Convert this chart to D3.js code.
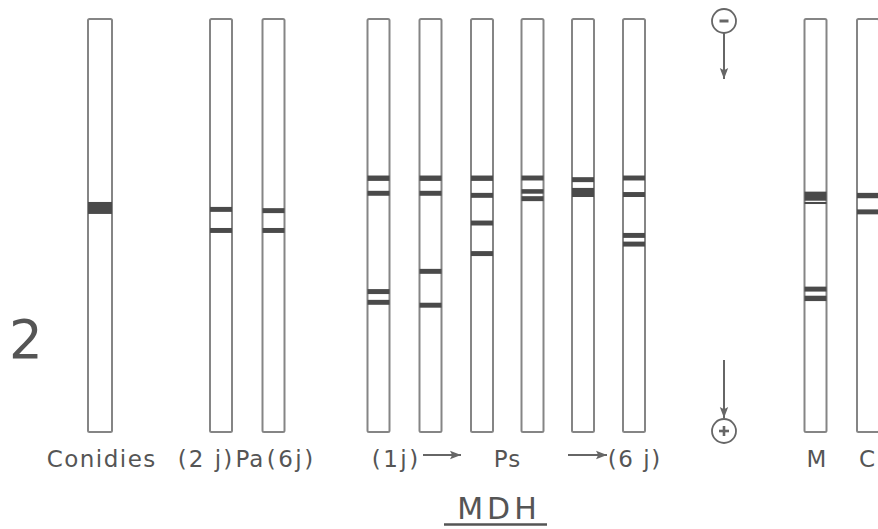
<!DOCTYPE html>
<html>
<head>
<meta charset="utf-8">
<script src="https://d3js.org/d3.v7.min.js"></script>
<style>
  body { margin: 0; background: #fff; }
  text { font-family: "DejaVu Sans", sans-serif; fill: #555; }
</style>
</head>
<body>
<div id="chart"></div>
<script>
// lanes of the gel (electrophoresis of MDH)
const lanes = ['Conidies', 'Pa2j', 'Pa6j', 'Ps1', 'Ps2', 'Ps3', 'Ps4', 'Ps5', 'Ps6', 'M', 'C'];

// bands per lane: [start, end] of each band, as % of the migration distance (top = 0, bottom = 100)
const bandsConidies = [[44.3, 47.2]];
const bandsPa2j = [[45.5, 46.7], [50.6, 51.8]];
const bandsPa6j = [[45.8, 47.0], [50.6, 51.8]];
const bandsPs1 = [[37.9, 39.2], [41.6, 42.8], [65.4, 66.6], [68.0, 69.2]];
const bandsPs2 = [[37.9, 39.2], [41.6, 42.8], [60.5, 61.7], [68.7, 69.9]];
const bandsPs3 = [[37.9, 39.2], [42.1, 43.3], [48.8, 50.0], [56.2, 57.4]];
const bandsPs4 = [[37.9, 39.1], [41.2, 42.3], [42.9, 44.1]];
const bandsPs5 = [[38.3, 39.5], [40.9, 43.1]];
const bandsPs6 = [[37.9, 39.1], [41.9, 43.1], [51.8, 53.0], [53.9, 55.1]];
const bandsM = [[41.8, 44.0], [44.3, 44.8], [64.8, 66.0], [67.0, 68.3]];
const bandsC = [[42.1, 43.4], [46.1, 47.3]];

const bands = {
  Conidies: bandsConidies, Pa2j: bandsPa2j, Pa6j: bandsPa6j,
  Ps1: bandsPs1, Ps2: bandsPs2, Ps3: bandsPs3, Ps4: bandsPs4, Ps5: bandsPs5, Ps6: bandsPs6,
  M: bandsM, C: bandsC
};

const width = 878, height = 529;
const tubeW = 22;

const svg = d3.select('#chart').append('svg')
  .attr('width', width)
  .attr('height', height);

// lane positions along the plate
const x = d3.scaleOrdinal()
  .domain(lanes)
  .range([100, 221, 273.5, 378.5, 430.5, 482, 532.5, 583, 634, 815.5, 868]);

// migration distance -> pixel
const y = d3.scaleLinear().domain([0, 100]).range([19, 432]);

const tw = d => d === 'Conidies' ? 24 : tubeW;

const lane = svg.append('g')
  .selectAll('g')
  .data(lanes)
  .enter()
  .append('g')
  .attr('transform', d => `translate(${x(d)},0)`);

// tubes
lane.append('rect')
  .attr('x', d => -tw(d) / 2)
  .attr('y', y(0))
  .attr('width', d => tw(d))
  .attr('height', y(100) - y(0))
  .attr('rx', 1.5)
  .attr('fill', 'none')
  .attr('stroke', '#858585')
  .attr('stroke-width', 2);

// bands
lane.selectAll('rect.band')
  .data(d => bands[d].map(b => ({ lane: d, b })))
  .enter()
  .append('rect')
  .attr('class', 'band')
  .attr('x', d => -tw(d.lane) / 2)
  .attr('width', d => tw(d.lane))
  .attr('y', d => y(d.b[0]))
  .attr('height', d => y(d.b[1]) - y(d.b[0]))
  .attr('fill', '#4a4a4a');

// arrow marker
const defs = svg.append('defs');
defs.append('marker')
  .attr('id', 'head')
  .attr('viewBox', '0 0 10 10')
  .attr('refX', 10).attr('refY', 5)
  .attr('markerWidth', 5.5).attr('markerHeight', 5.5)
  .attr('markerUnits', 'strokeWidth')
  .attr('orient', 'auto')
  .append('path')
  .attr('d', 'M0,1.2L10,5L0,8.8L2,5Z')
  .attr('fill', '#666');

// polarity: minus at top, plus at bottom
const pol = svg.append('g').attr('stroke', '#666').attr('fill', 'none');
pol.append('circle').attr('cx', 724).attr('cy', 21).attr('r', 12).attr('stroke-width', 1.8);
pol.append('line').attr('x1', 719.5).attr('x2', 728.5).attr('y1', 21).attr('y2', 21).attr('stroke-width', 3);
pol.append('line').attr('x1', 724).attr('x2', 724).attr('y1', 33).attr('y2', 79)
  .attr('stroke-width', 2).attr('marker-end', 'url(#head)');

pol.append('line').attr('x1', 724).attr('x2', 724).attr('y1', 360).attr('y2', 418)
  .attr('stroke-width', 2).attr('marker-end', 'url(#head)');
pol.append('circle').attr('cx', 724).attr('cy', 431).attr('r', 12).attr('stroke-width', 1.8);
pol.append('line').attr('x1', 719).attr('x2', 729).attr('y1', 431).attr('y2', 431).attr('stroke-width', 2.6);
pol.append('line').attr('x1', 724).attr('x2', 724).attr('y1', 426).attr('y2', 436).attr('stroke-width', 2.6);

// lane labels
const labels = [
  { t: 'Conidies', x: 101, ls: 1.5 },
  { t: '(2 j)', x: 205, ls: 2 },
  { t: 'Pa', x: 249.5, ls: 1 },
  { t: '(6j)', x: 290, ls: 2.5 },
  { t: '(1j)', x: 395, ls: 2.5 },
  { t: 'Ps', x: 507, ls: 1 },
  { t: '(6 j)', x: 634, ls: 1.5 },
  { t: 'M', x: 816.5, ls: 0 },
  { t: 'C', x: 867, ls: 0 }
];
svg.append('g')
  .selectAll('text')
  .data(labels)
  .enter()
  .append('text')
  .attr('x', d => d.x + d.ls / 2)
  .attr('y', 467)
  .attr('text-anchor', 'middle')
  .attr('font-size', 23)
  .attr('letter-spacing', d => d.ls)
  .text(d => d.t);

// arrows between Ps labels
[[423, 461], [568, 607]].forEach(a => {
  svg.append('line')
    .attr('x1', a[0]).attr('x2', a[1])
    .attr('y1', 455).attr('y2', 455)
    .attr('stroke', '#666').attr('stroke-width', 2)
    .attr('marker-end', 'url(#head)');
});

// title
svg.append('text')
  .attr('x', 499)
  .attr('y', 519)
  .attr('text-anchor', 'middle')
  .attr('font-size', 30)
  .attr('letter-spacing', 4)
  .text('MDH');
svg.append('line')
  .attr('x1', 444).attr('x2', 547)
  .attr('y1', 524.5).attr('y2', 524.5)
  .attr('stroke', '#555').attr('stroke-width', 2.5);

// figure number
svg.append('text')
  .attr('x', 9)
  .attr('y', 358)
  .attr('font-size', 53)
  .text('2');
</script>
</body>
</html>
